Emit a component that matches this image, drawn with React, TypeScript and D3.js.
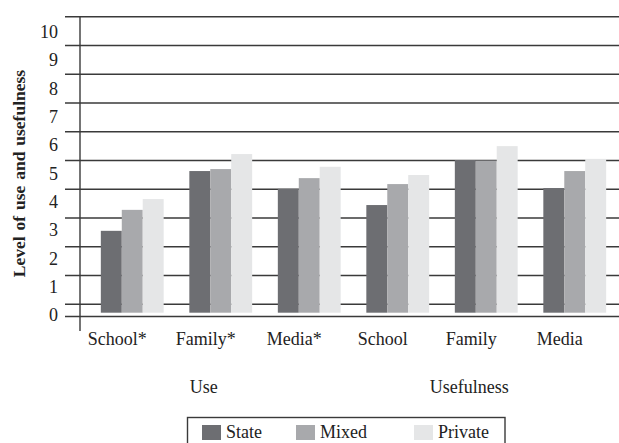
import React from "react";
import * as d3 from "d3";

const categories = ["School*", "Family*", "Media*", "School", "Family", "Media"];
const series = ["State", "Mixed", "Private"];
const stateValues = [2.89, 5.0, 4.37, 3.8, 5.39, 4.4];
const mixedValues = [3.63, 5.07, 4.75, 4.54, 5.37, 5.0];
const privateValues = [4.01, 5.6, 5.15, 4.86, 5.88, 5.43];
const yTicks = [0, 1, 2, 3, 4, 5, 6, 7, 8, 9, 10];
const groups = [
  { name: "Use", members: ["School*", "Family*", "Media*"] },
  { name: "Usefulness", members: ["School", "Family", "Media"] },
];
const yTitle = "Level of use and usefulness";

const W = 619;
const H = 443;
const colors = ["#6d6e72", "#a8a9ac", "#e5e6e7"];
const lineColor = "#3a3a3a";
const font = "'Liberation Serif', 'Times New Roman', serif";
const legendX = [202, 296, 414];

export default function App() {
  const values = [stateValues, mixedValues, privateValues];
  const x = d3.scaleBand<string>().domain(categories).range([88, 619]).paddingInner(0.29).paddingOuter(0.145);
  const xs = d3.scaleBand<string>().domain(series).range([0, x.bandwidth()]).padding(0);
  const y = d3.scaleLinear().domain([0, 10]).range([312.7, 29.4]);
  const gridY = d3.scaleLinear().domain([0, 10]).range([304.3, 16.7]);
  const labelShift = -15;

  return (
    <svg width={W} height={H} style={{ position: "absolute", left: 0, top: 0, background: "#fff" }} fontFamily={font}>
      {yTicks.map((t) => (
        <line key={"g" + t} x1={65} x2={W} y1={gridY(t)} y2={gridY(t)} stroke={lineColor} strokeWidth={1.4} />
      ))}
      <line x1={65} x2={W} y1={316.5} y2={316.5} stroke={lineColor} strokeWidth={1.4} />
      <line x1={80} x2={80} y1={16} y2={331} stroke={lineColor} strokeWidth={1.4} />
      {yTicks.map((t) => (
        <text key={"t" + t} x={58} y={y(t) + 8.5} textAnchor="end" fontSize={18} fill="#222">
          {t}
        </text>
      ))}
      {categories.map((c, ci) =>
        series.map((s, si) => (
          <rect
            key={c + s}
            x={(x(c) ?? 0) + (xs(s) ?? 0)}
            width={xs.bandwidth()}
            y={y(values[si][ci])}
            height={y(0) - y(values[si][ci])}
            fill={colors[si]}
          />
        ))
      )}
      {categories.map((c) => (
        <text key={"x" + c} x={(x(c) ?? 0) + x.bandwidth() / 2 + labelShift} y={345} textAnchor="middle" fontSize={18} fill="#222">
          {c}
        </text>
      ))}
      {groups.map((g) => {
        const cx = d3.mean(g.members, (m) => (x(m) ?? 0) + x.bandwidth() / 2) ?? 0;
        return (
          <text key={g.name} x={cx - 17} y={393} textAnchor="middle" fontSize={18} fill="#222">
            {g.name}
          </text>
        );
      })}
      <text
        transform={`translate(25,173.5) rotate(-90)`}
        textAnchor="middle"
        fontSize={17.5}
        fontWeight="bold"
        fill="#222"
        wordSpacing={1.5}
      >
        {yTitle}
      </text>
      <rect x={187.5} y={417.5} width={317.5} height={40} fill="none" stroke={lineColor} strokeWidth={1.4} />
      {series.map((s, i) => (
        <g key={"l" + s}>
          <rect x={legendX[i]} y={425} width={19} height={15} fill={colors[i]} />
          <text x={legendX[i] + 24} y={438} fontSize={18} fill="#222">
            {s}
          </text>
        </g>
      ))}
    </svg>
  );
}
